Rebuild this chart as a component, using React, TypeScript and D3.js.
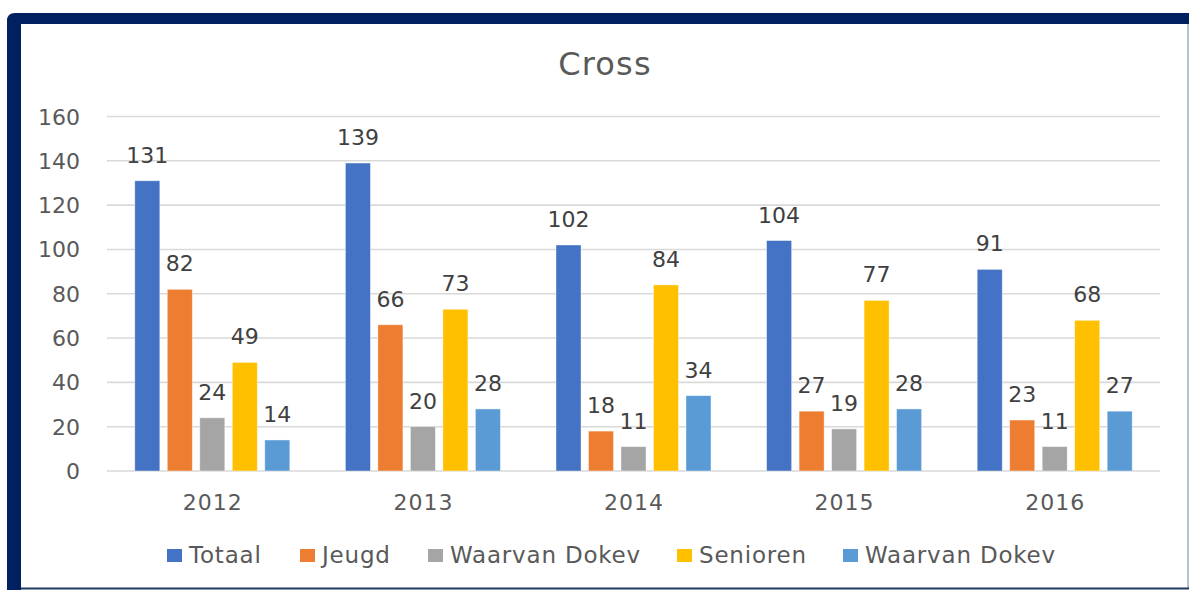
import React from "react";
import * as d3 from "d3";

const years = ["2012", "2013", "2014", "2015", "2016"];
const seriesNames = ["Totaal", "Jeugd", "Waarvan Dokev", "Senioren", "Waarvan Dokev"];
const seriesColors = ["#4472C4", "#ED7D31", "#A5A5A5", "#FFC000", "#5B9BD5"];
const totaal = [131, 139, 102, 104, 91];
const jeugd = [82, 66, 18, 27, 23];
const waarvanJeugd = [24, 20, 11, 19, 11];
const senioren = [49, 73, 84, 77, 68];
const waarvanSenioren = [14, 28, 34, 28, 27];
const yTicks = [0, 20, 40, 60, 80, 100, 120, 140, 160];
const title = "Cross";

const values = [totaal, jeugd, waarvanJeugd, senioren, waarvanSenioren];

const W = 1189;
const H = 590;
const FONT = "'DejaVu Sans', sans-serif";
const legendX = [167, 300, 428, 677, 843];

export default function App() {
  const y = d3.scaleLinear().domain([0, 160]).range([471, 116.5]);
  const x0 = d3.scaleBand<string>().domain(years).range([107, 1160]).padding(0);
  const x1 = d3
    .scaleBand<number>()
    .domain(d3.range(seriesNames.length))
    .range([27.8, x0.bandwidth() - 27.8])
    .paddingInner(0.23)
    .paddingOuter(0);

  return (
    <svg
      width={W}
      height={H}
      style={{ position: "absolute", left: 0, top: 0, background: "#fff" }}
      fontFamily={FONT}
    >
      {/* frame */}
      <path
        d={`M7,${H} L7,21 Q7,13 15,13 L${W},13 L${W},24 L21,24 L21,${H} Z`}
        fill="#002060"
      />
      <line x1={1188} y1={24} x2={1188} y2={588} stroke="#8497B0" strokeWidth={1.2} />
      <line x1={21} y1={588.5} x2={W} y2={588.5} stroke="#203864" strokeWidth={2} />

      {/* title */}
      <text x={605} y={75} textAnchor="middle" fontSize={32} letterSpacing={1.2} fill="#595959">
        {title}
      </text>

      {/* gridlines */}
      {yTicks.map((t) => (
        <line
          key={t}
          x1={107}
          x2={1160}
          y1={y(t)}
          y2={y(t)}
          stroke="#D9D9D9"
          strokeWidth={1.6}
        />
      ))}
      {yTicks.map((t) => (
        <text
          key={"l" + t}
          x={80}
          y={y(t) + 8}
          textAnchor="end"
          fontSize={22}
          fill="#595959"
        >
          {t}
        </text>
      ))}

      {/* bars */}
      {years.map((yr, i) => (
        <g key={yr} transform={`translate(${x0(yr)},0)`}>
          {values.map((vals, s) => (
            <g key={s}>
              <rect
                x={x1(s)}
                y={y(vals[i])}
                width={x1.bandwidth()}
                height={y(0) - y(vals[i])}
                fill={seriesColors[s]}
                stroke="#ffffff"
                strokeOpacity={0.5}
                strokeWidth={0.8}
              />
              <text
                x={(x1(s) as number) + x1.bandwidth() / 2}
                y={y(vals[i]) - 18}
                textAnchor="middle"
                fontSize={22}
                fill="#404040"
              >
                {vals[i]}
              </text>
            </g>
          ))}
          <text
            x={x0.bandwidth() / 2 + 0.5}
            y={510}
            textAnchor="middle"
            fontSize={22}
            letterSpacing={1}
            fill="#595959"
          >
            {yr}
          </text>
        </g>
      ))}

      {/* legend */}
      {seriesNames.map((name, s) => (
        <g key={s}>
          <rect x={legendX[s]} y={549} width={15} height={13} fill={seriesColors[s]} />
          <text x={legendX[s] + 22} y={563} fontSize={23} letterSpacing={0.8} fill="#595959">
            {name}
          </text>
        </g>
      ))}
    </svg>
  );
}
